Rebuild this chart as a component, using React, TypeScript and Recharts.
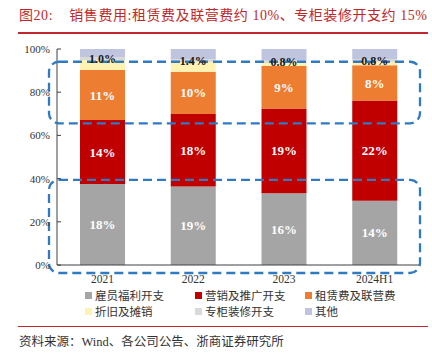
import React from 'react';
import { BarChart, Bar, XAxis, YAxis, LabelList, ReferenceArea } from 'recharts';

const categories = ['2021', '2022', '2023', '2024H1'];
// share of selling expense (stacked to 100%)
const employee = [37.5, 36.3, 33.2, 29.8];
const marketing = [29.6, 33.6, 39.3, 46.3];
const rent = [23.2, 19.6, 19.6, 16.4];
const depreciation = [4.6, 4.5, 1.4, 1.5];
const counter = [1.4, 1.4, 1.4, 1.4];
const other = [3.7, 4.6, 5.1, 4.6];
// labels (ratio to revenue)
const employeeLabels = ['18%', '19%', '16%', '14%'];
const marketingLabels = ['14%', '18%', '19%', '22%'];
const rentLabels = ['11%', '10%', '9%', '8%'];
const counterLabels = ['1.0%', '1.4%', '0.8%', '0.8%'];
const yTicks = [0, 20, 40, 60, 80, 100];
const boxRanges = [
  { y1: 65.6, y2: 94.1 },
  { y1: -3.7, y2: 39.4 },
];

const seriesNames = ['雇员福利开支', '营销及推广开支', '租赁费及联营费', '折旧及摊销', '专柜装修开支', '其他'];
const seriesKeys = ['employee', 'marketing', 'rent', 'depreciation', 'counter', 'other'];
const seriesColors = ['#A5A5A5', '#C00000', '#ED7D31', '#FFF2B3', '#D9D9D9', '#BFC5DF'];

const data = categories.map((c, i) => ({
  name: c,
  employee: employee[i],
  marketing: marketing[i],
  rent: rent[i],
  depreciation: depreciation[i],
  counter: counter[i],
  other: other[i],
  employeeLabel: employeeLabels[i],
  marketingLabel: marketingLabels[i],
  rentLabel: rentLabels[i],
  counterLabel: counterLabels[i],
}));

const serif = '"Liberation Serif", "Times New Roman", "Noto Sans CJK SC", serif';
const cjk = '"Liberation Serif", "Noto Sans CJK SC", serif';

const YTick = (props: any) => {
  const { x, y, payload } = props;
  return (
    <g>
      <line x1={x + 8} x2={x + 12} y1={y} y2={y} stroke="#404040" strokeWidth={1} />
      <text x={x + 1} y={y} dy={4} textAnchor="end" fontSize={11} fontFamily={serif} fill="#333">
        {payload.value}%
      </text>
    </g>
  );
};

const DashedBox = (props: any) => {
  const { x, y, width, height } = props;
  return (
    <rect
      x={x - 8}
      y={y}
      width={width + 8}
      height={height}
      rx={10}
      ry={10}
      fill="none"
      stroke="#2E7BC4"
      strokeWidth={2.3}
      strokeDasharray="9 5"
    />
  );
};

const whiteLabel = { fill: '#fff', fontSize: 13, fontWeight: 700, fontFamily: serif };

export default function App() {
  return (
    <div style={{ position: 'absolute', left: 0, top: 0, width: 432, height: 353, background: '#fff', overflow: 'hidden' }}>
      <div
        style={{
          position: 'absolute', left: 19, top: 6, fontSize: 14, letterSpacing: 0.55, color: '#C0282D', fontFamily: cjk, whiteSpace: 'nowrap', lineHeight: '20px',
        }}
      >
        图20:&nbsp;&nbsp;&nbsp;&nbsp;销售费用:租赁费及联营费约 10%、专柜装修开支约 15%
      </div>
      <div style={{ position: 'absolute', left: 18, top: 32, width: 410, height: 1.5, background: '#C0282D' }} />
      <div style={{ position: 'absolute', left: 0, top: 0 }}>
        <BarChart width={432} height={290} data={data} margin={{ top: 49, right: 12, bottom: 0, left: 7 }} barSize={45}>
          <XAxis
            dataKey="name"
            height={25}
            tickLine={false}
            tickSize={0}
            tickMargin={10}
            axisLine={{ stroke: '#404040' }}
            tick={{ fontSize: 11.5, fontFamily: serif, fill: '#333' }}
          />
          <YAxis
            width={50}
            domain={[0, 100]}
            ticks={yTicks}
            tickSize={0}
            tickMargin={8}
            tickLine={false}
            axisLine={{ stroke: '#404040' }}
            tick={<YTick />}
            allowDataOverflow
          />
          {seriesKeys.map((k, i) => (
            <Bar key={k} dataKey={k} stackId="a" fill={seriesColors[i]} isAnimationActive={false} name={seriesNames[i]}>
              {k === 'employee' && <LabelList dataKey="employeeLabel" position="center" style={whiteLabel} />}
              {k === 'marketing' && <LabelList dataKey="marketingLabel" position="center" style={whiteLabel} />}
              {k === 'rent' && <LabelList dataKey="rentLabel" position="center" style={whiteLabel} />}
              {k === 'counter' && (
                <LabelList dataKey="counterLabel" position="center" style={{ fill: '#1a1a1a', fontSize: 12, fontWeight: 700, fontFamily: serif }} />
              )}
            </Bar>
          ))}
          {boxRanges.map((b, i) => (
            <ReferenceArea key={i} y1={b.y1} y2={b.y2} ifOverflow="visible" shape={<DashedBox />} zIndex={1000} />
          ))}
        </BarChart>
      </div>
      <div style={{ position: 'absolute', left: 0, top: 286, width: 432 }}>
        {seriesNames.map((n, i) => {
          const col = i % 3;
          const row = Math.floor(i / 3);
          const left = [85, 195, 305][col];
          return (
            <div
              key={n}
              style={{ position: 'absolute', left, top: row * 16, display: 'flex', alignItems: 'center', height: 18, whiteSpace: 'nowrap' }}
            >
              <span style={{ display: 'inline-block', width: 7, height: 7, background: seriesColors[i], marginRight: 3 }} />
              <span style={{ fontSize: 11.5, fontFamily: cjk, color: '#333' }}>{n}</span>
            </div>
          );
        })}
      </div>
      <div style={{ position: 'absolute', left: 18, top: 326, width: 410, height: 1.2, background: '#C0282D' }} />
      <div style={{ position: 'absolute', left: 19, top: 333, fontSize: 12.5, fontFamily: cjk, color: '#333', whiteSpace: 'nowrap', lineHeight: '18px' }}>
        资料来源：Wind、各公司公告、浙商证券研究所
      </div>
    </div>
  );
}
